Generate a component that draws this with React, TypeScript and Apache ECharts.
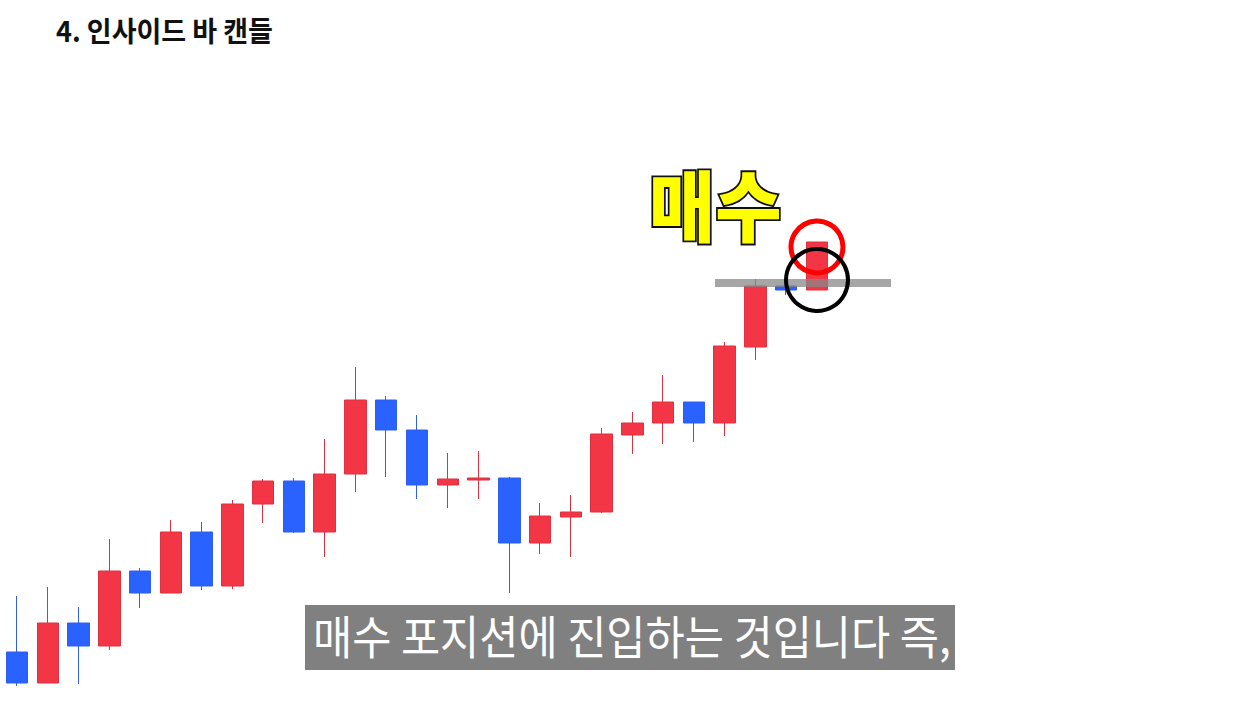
import React, { useEffect, useRef } from "react";
import * as echarts from "echarts";

// Candle index labels (hidden axis)
const categories: string[] = Array.from({ length: 27 }, (_, i) => `D${i + 1}`);
// [open, close, low, high]
const opens = [48, 17, 77, 54, 129, 107, 168, 114, 196, 219, 168, 226, 300, 270, 215, 220, 222, 157, 183, 188, 265, 277, 298, 277, 353, 414, 410];
const closes = [17, 77, 54, 129, 107, 168, 114, 196, 219, 168, 226, 300, 270, 215, 221, 222, 157, 184, 188, 266, 277, 298, 277, 354, 414, 410, 458];
const lows = [14, 17, 16, 50, 92, 107, 110, 111, 177, 167, 143, 208, 223, 201, 192, 201, 107, 146, 143, 187, 246, 256, 258, 264, 340, 405, 410];
const highs = [104, 113, 93, 161, 132, 180, 178, 200, 221, 222, 261, 333, 304, 285, 247, 249, 223, 197, 205, 272, 288, 325, 298, 358, 421, 414, 458];

const titleText = "4. 인사이드 바 캔들";
const buyText = "매수";
const subtitleText = "매수 포지션에 진입하는 것입니다 즉,";
const breakoutLevel = 417; // gray horizontal level

export default function App() {
  const ref = useRef<HTMLDivElement>(null);
  useEffect(() => {
    if (!ref.current) return;
    const chart = echarts.init(ref.current, null, { renderer: "svg" });
    const data = opens.map((o, i) => [o, closes[i], lows[i], highs[i]]);
    const n = categories.length;
    chart.setOption({
      animation: false,
      backgroundColor: "#ffffff",
      grid: { left: 1.6, width: 830.8, top: 0, height: 700 },
      xAxis: { type: "category", data: categories, show: false, boundaryGap: true },
      yAxis: { type: "value", min: 0, max: 700, show: false },
      series: [
        {
          type: "candlestick",
          data,
          barWidth: 22,
          itemStyle: {
            color: "#f23645",
            color0: "#2962ff",
            borderColor: "#e0303f",
            borderColor0: "#2f5ff0",
            borderWidth: 1,
          },
          markLine: {
            silent: true,
            symbol: "none",
            label: { show: false },
            lineStyle: { color: "rgba(136,136,136,0.75)", width: 8, type: "solid" },
            data: [[
              { coord: [categories[23], breakoutLevel], x: 715 },
              { coord: [categories[n - 1], breakoutLevel], x: 891 },
            ]],
          },
          z: 2,
        },
      ],
      graphic: [
        {
          type: "text",
          x: 56,
          y: 16,
          scaleY: 1.05,
          z: 100,
          style: {
            text: titleText,
            fill: "#111111",
            fontSize: 27,
            fontWeight: "bold",
            fontFamily: "Noto Sans CJK KR",
          },
        },
        {
          type: "text",
          x: 649,
          y: 163,
          scaleY: 1.08,
          z: 100,
          style: {
            text: buyText,
            fill: "#ffff00",
            stroke: "#111111",
            lineWidth: 3.5,
            fontSize: 72,
            fontWeight: 900,
            fontFamily: "Noto Sans CJK KR",
          },
        },
        {
          type: "circle",
          z: 100,
          shape: { cx: 817, cy: 247, r: 26 },
          style: { fill: "none", stroke: "#ff0000", lineWidth: 5 },
        },
        {
          type: "circle",
          z: 100,
          shape: { cx: 817, cy: 280, r: 31 },
          style: { fill: "none", stroke: "#000000", lineWidth: 4 },
        },
        {
          type: "rect",
          z: 100,
          shape: { x: 305, y: 605, width: 650, height: 65 },
          style: { fill: "#808080" },
        },
        {
          type: "text",
          x: 313,
          y: 611,
          scaleY: 1.08,
          z: 101,
          style: {
            text: subtitleText,
            fill: "#ffffff",
            fontSize: 42.6,
            fontFamily: "Noto Sans CJK KR",
          },
        },
      ],
    });
    return () => chart.dispose();
  }, []);
  return (
    <div
      ref={ref}
      style={{ position: "fixed", left: 0, top: 0, width: 1260, height: 704 }}
    />
  );
}
